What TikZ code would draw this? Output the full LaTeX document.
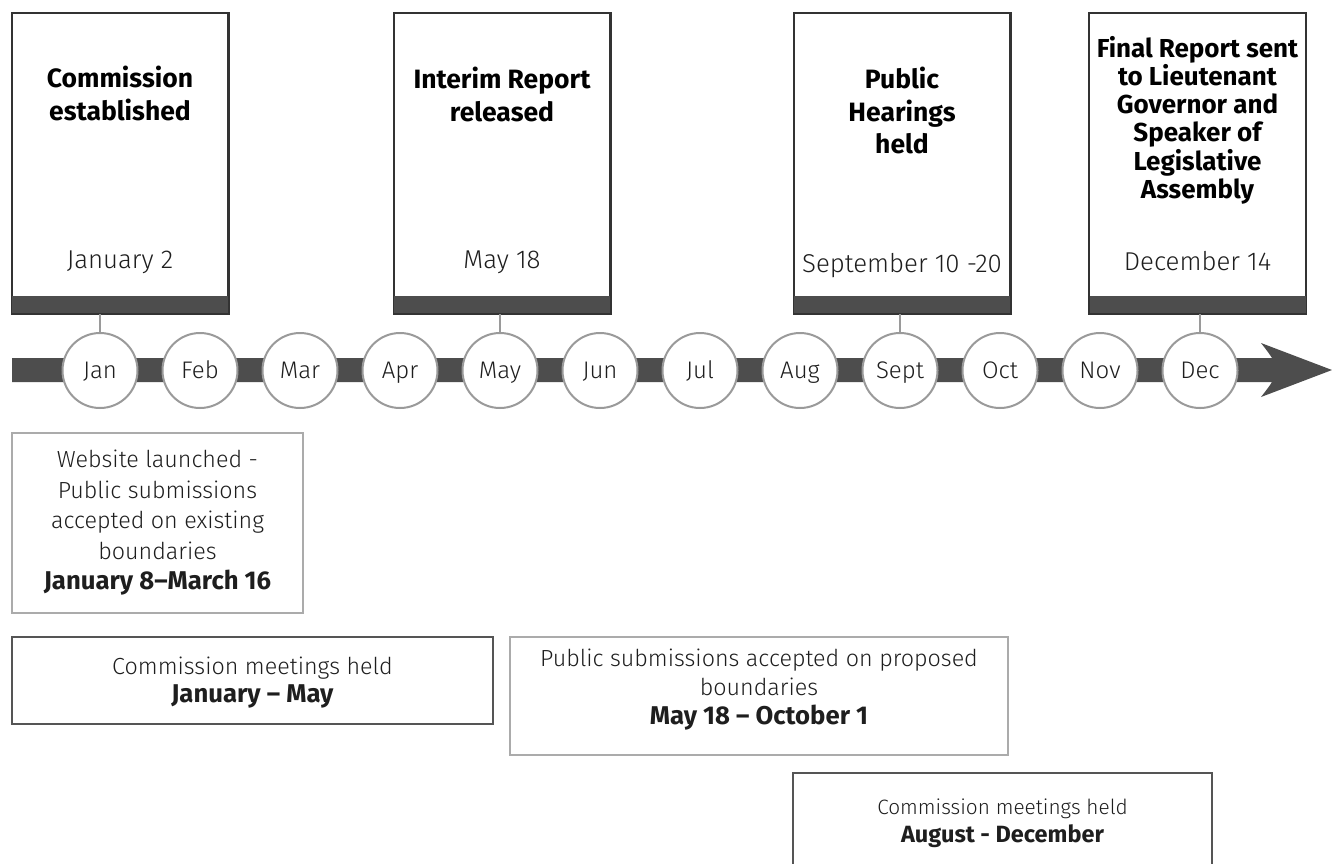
\documentclass[tikz,border=0pt]{standalone}
\usepackage{fontspec}
\setmainfont{Fira Sans}[UprightFont=* Light, BoldFont=* Bold]
\definecolor{barc}{HTML}{4D4D4D}
\definecolor{ringc}{HTML}{9A9A9A}
\definecolor{edgec}{HTML}{333333}
\definecolor{midedge}{HTML}{555555}
\definecolor{lightedge}{HTML}{ABABAB}
\definecolor{txtc}{HTML}{1E1E1E}
\newcommand\bt{\bfseries\fontsize{26.5}{32.5}\selectfont}
\newcommand\btt{\bfseries\fontsize{26}{28.2}\selectfont}
\newcommand\lt{\fontsize{25.8}{29.5}\selectfont}
\newcommand\ltm{\fontsize{24}{29.5}\selectfont}
\newcommand\lowb[1]{\textbf{\fontsize{25.7}{29}\selectfont #1}}
\tikzset{
  month/.style={circle, minimum size=75pt, inner sep=0pt, draw=ringc, line width=2pt, fill=white, text=txtc, font=\ltm, text height=20pt, text depth=5pt},
  topbox/.style={rectangle, minimum width=216pt, minimum height=300pt, inner sep=0pt, draw=edgec, line width=1.5pt, fill=white},
  title/.style={anchor=north, align=center, inner sep=0pt, text=black},
  datel/.style={anchor=base, inner sep=0pt, text=txtc, font=\lt},
  lowdark/.style={rectangle, inner sep=0pt, draw=midedge, line width=1.3pt, align=center, text=txtc},
  lowlight/.style={rectangle, inner sep=0pt, draw=lightedge, line width=1.3pt, align=center, text=txtc},
  lowtext/.style={align=center, inner sep=0pt, text=txtc},
  conn/.style={draw=ringc, line width=2pt}
}
\begin{document}
\begin{tikzpicture}[x=1pt,y=-1pt]
\path[use as bounding box] (0,0) rectangle (1332,863);
\clip (0,0) rectangle (1332,863);
\fill[white] (0,0) rectangle (1332,863);
% timeline arrow
\fill[barc] (12,358) -- (1272,358) .. controls (1268,352) .. (1261,343) -- (1332,370) -- (1261,397) .. controls (1268,388) .. (1272,382) -- (12,382) -- cycle;
% months
\foreach \m [count=\i] in {Jan,Feb,Mar,Apr,May,Jun,Jul,Aug,Sept,Oct,Nov,Dec}
  \node[month] (m\i) at ({100*\i},370.5) {\m};
% top boxes
\node[topbox] (b1) at (120,163) {};
\node[topbox] (b2) at (502,163) {};
\node[topbox] (b3) at (902,163) {};
\node[topbox] (b4) at (1197.5,163) {};
\foreach \b in {b1,b2,b3,b4}{
  \fill[barc] (\b.south west) rectangle ([yshift=18pt]\b.south east);
  \draw[edgec, line width=1.5pt] (\b.south west) rectangle (\b.north east);
}
\draw[conn] (m1.north) -- (m1.north |- b1.south);
\draw[conn] (m5.north) -- (m5.north |- b2.south);
\draw[conn] (m9.north) -- (m9.north |- b3.south);
\draw[conn] (m12.north) -- (m12.north |- b4.south);
% titles
\node[title, font=\bt] (t1) at (120,66) {Commission\\established};
\node[title, font=\bt] (t2) at (502,67) {Interim Report\\released};
\node[title, font=\bt] (t3) at (902,67) {Public\\Hearings\\held};
\node[title, font=\btt] (t4) at (1197.5,36) {Final Report sent\\to Lieutenant\\Governor and\\Speaker of\\Legislative\\Assembly};
% dates
\node[datel] (d1) at (120,268) {January 2};
\node[datel] (d2) at (502,268) {May 18};
\node[datel] (d3) at (902,272) {September 10 -20};
\node[datel] (d4) at (1197.5,270) {December 14};
% lower boxes
\node[lowlight, minimum width=291pt, minimum height=180pt, font=\fontsize{23.3}{30.5}\selectfont] (w) at (157.5,523)
  {Website launched -\\Public submissions\\accepted on existing\\boundaries\\\lowb{January 8--March 16}};
\node[lowdark, minimum width=481pt, minimum height=87pt] (cm1) at (252.5,680.5) {};
\node[lowtext, font=\fontsize{23.3}{28}\selectfont] (cm1t) at (252.5,683)
  {Commission meetings held\\\lowb{January -- May}};
\node[lowlight, minimum width=498pt, minimum height=118pt] (ps) at (759,696) {};
\node[lowtext, font=\fontsize{23.3}{29}\selectfont] (pst) at (759,690)
  {Public submissions accepted on proposed\\boundaries\\\lowb{May 18 -- October 1}};
\node[lowdark, minimum width=419pt, minimum height=140pt] (cm2) at (1002.5,843) {};
\node[lowtext, anchor=north, font=\fontsize{20.8}{28}\selectfont] (cm2t) at (1002.5,799)
  {Commission meetings held\\\textbf{\fontsize{23.5}{28}\selectfont August - December}};
\end{tikzpicture}
\end{document}
